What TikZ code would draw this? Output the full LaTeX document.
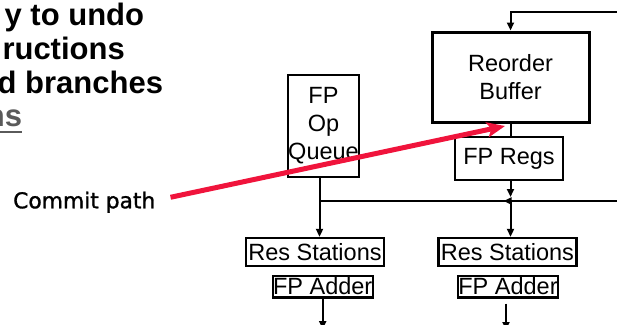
\documentclass[tikz,border=0pt]{standalone}
\usepackage{fontspec}
\setmainfont{Liberation Sans}
\newfontfamily\handfont[FakeBold=1.2]{DejaVu Sans}
\usetikzlibrary{arrows.meta, positioning}
\definecolor{commitred}{RGB}{240,20,60}
\definecolor{slidegray}{RGB}{90,90,90}

\begin{document}
\begin{tikzpicture}[x=1pt, y=-1pt,
    unit/.style={draw, line width=2.4pt, inner sep=0pt, align=center,
                 font=\fontsize{23.5}{28}\selectfont},
    wire/.style={line width=2pt},
    feed/.style={wire, -{Triangle[length=8pt,width=7pt]}},
    commit/.style={draw=commitred, line width=5pt,
                   -{Stealth[length=18pt,width=15pt,inset=4pt]}},
    title/.style={anchor=base east, inner sep=0pt,
                  font=\bfseries\fontsize{31}{34}\selectfont}]
    \useasboundingbox (0,0) rectangle (617,324);

    % slide text, cut at the left edge
    \node[title] (ln1) at (144.3,25) {y to undo};
    \node[title] (ln2) at (125,59) {ructions};
    \node[title] (ln3) at (163.3,93) {d branches};
    \node[title, text=slidegray] (ln4) at (22.3,126) {ns};
    \draw[slidegray, line width=2.5pt] ([yshift=-6pt]ln4.base west) -- ([yshift=-6pt]ln4.base east);

    % units
    \node[unit, line width=3pt, minimum width=157pt, minimum height=90pt] (rob) at (510.5,77) {Reorder\\Buffer};
    \node[unit, minimum width=71pt, minimum height=102pt] (queue) at (323.5,126) {FP\\Op\\Queue};
    \node[unit, minimum width=108pt, minimum height=43pt] (regs) at (509,158.5) {FP Regs};
    \node[unit, minimum width=138pt, minimum height=28pt] (rsL) at (315,252) {Res Stations};
    \node[unit, right=52pt of rsL, minimum width=138pt, minimum height=28pt] (rsR) {Res Stations};
    \node[unit, minimum width=100pt, minimum height=21.6pt] (addL) at (322.7,286.5) {FP Adder};
    \node[unit, minimum width=100pt, minimum height=21.6pt] (addR) at (508,286.5) {FP Adder};

    % buses
    \coordinate (fbin) at (625,12);
    \coordinate (busin) at (625,201);
    \coordinate (jn) at (rob.south |- busin);
    \coordinate (qjn) at ([xshift=-4pt]queue.south |- busin);
    \coordinate (outL) at (322.7,329);
    \coordinate (outR) at (506,330);
    \draw[feed] (fbin) -| (rob.north);
    \draw[wire] (rob.south) -- (rob.south |- regs.north);
    \draw[feed, shorten >=4pt] (regs.south -| jn) -- (jn);
    \draw[feed] ([xshift=-4pt]queue.south) -- (qjn |- rsL.north);
    \draw[wire] (qjn) -- (jn);
    \draw[feed] (busin) -- ([xshift=-7pt]jn);
    \draw[feed] (jn) -- (jn |- rsR.north);
    \draw[feed] (addL.south) -- (outL);
    \draw[feed] ([yshift=-5pt]addR.south -| outR) -- (outR);

    % commit path
    \node[font=\handfont\fontsize{21.8}{24}\selectfont, anchor=base west, inner sep=0pt] (cp) at (13,208.3) {Commit path};
    \coordinate (robin) at (505,126);
    \draw[commit] ([shift={(15,-5)}]cp.east) -- (robin);
\end{tikzpicture}
\end{document}
